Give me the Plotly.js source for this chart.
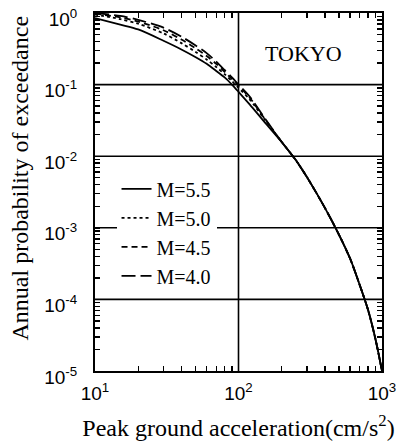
<!DOCTYPE html>
<html>
<head>
<meta charset="utf-8">
<script src="https://cdn.plot.ly/plotly-3.0.1.min.js"></script>
<style>html,body{margin:0;padding:0;background:#fff;}#chart{width:408px;height:444px;}</style>
</head>
<body>
<div id="chart"></div>
<script>
// Peak ground acceleration (cm/s^2)
const pga = [10, 15, 20, 30, 40, 50, 60, 70, 80, 90, 100, 120, 150, 200, 250, 300, 400, 500, 600, 700, 800, 900, 1000];
// Annual probability of exceedance, Tokyo
const m55 = [0.85, 0.69, 0.59, 0.41, 0.31, 0.243, 0.195, 0.155, 0.126, 0.100, 0.0794, 0.0525, 0.0309, 0.0158, 0.0089, 0.0051, 0.0019, 0.00081, 0.00037, 0.000158, 0.000071, 0.000028, 0.00001];
const m50 = [0.95, 0.822, 0.708, 0.519, 0.380, 0.288, 0.224, 0.176, 0.140, 0.112, 0.0902, 0.0617, 0.0339, 0.0158, 0.0089, 0.0051, 0.0019, 0.00081, 0.00037, 0.000158, 0.000071, 0.000028, 0.00001];
const m45 = [0.98, 0.871, 0.759, 0.575, 0.427, 0.324, 0.251, 0.195, 0.151, 0.120, 0.0966, 0.0653, 0.0347, 0.0158, 0.0089, 0.0051, 0.0019, 0.00081, 0.00037, 0.000158, 0.000071, 0.000028, 0.00001];
const m40 = [1.0, 0.912, 0.804, 0.624, 0.468, 0.355, 0.275, 0.209, 0.160, 0.126, 0.100, 0.0676, 0.0355, 0.0158, 0.0089, 0.0051, 0.0019, 0.00081, 0.00037, 0.000158, 0.000071, 0.000028, 0.00001];

const seriesNames = ['M=5.5', 'M=5.0', 'M=4.5', 'M=4.0'];
const seriesData = [m55, m50, m45, m40];
const seriesDash = ['solid', 'dot', '6px,4px', '14px,5px'];

const xTickVals = [10, 100, 1000];
const xTickText = ['10<sup>1</sup>', '10<sup>2</sup>', '10<sup>3</sup>'];
const yTickVals = [1e-5, 1e-4, 1e-3, 1e-2, 1e-1, 1];
const yTickText = ['10<sup>-5</sup>', '10<sup>-4</sup>', '10<sup>-3</sup>', '10<sup>-2</sup>', '10<sup>-1</sup>', '10<sup>0</sup>'];

// major decade ticks + unlabeled minor ticks (2..9 in each decade)
function allTicks(majors, labels) {
  const vals = [], text = [];
  majors.forEach((m, i) => {
    vals.push(m); text.push(labels[i]);
    if (i < majors.length - 1) for (let k = 2; k <= 9; k++) { vals.push(k * m); text.push(''); }
  });
  return {vals, text};
}
const xt = allTicks(xTickVals, xTickText);
const yt = allTicks(yTickVals, yTickText);

// interior decade grid lines
const gridShapes = [];
xTickVals.slice(1, -1).forEach(v => gridShapes.push({type: 'line', layer: 'below', xref: 'x', yref: 'paper', x0: v, x1: v, y0: 0, y1: 1, line: {color: '#000', width: 1.6}}));
yTickVals.slice(1, -1).forEach(v => gridShapes.push({type: 'line', layer: 'below', xref: 'paper', yref: 'y', x0: 0, x1: 1, y0: v, y1: v, line: {color: '#000', width: 1.6}}));

const traces = seriesNames.map((n, i) => ({
  x: pga, y: seriesData[i], name: n, type: 'scatter', mode: 'lines',
  line: {color: '#000', width: 1.8, dash: seriesDash[i], shape: 'spline', smoothing: 0.8}
}));

const tickFont = {family: 'Liberation Sans, Arial, sans-serif', size: 19, color: '#000'};
const serif = 'Liberation Serif, Times New Roman, serif';

const layout = {
  width: 408, height: 444,
  margin: {l: 95, r: 26, t: 13, b: 73},
  paper_bgcolor: '#fff', plot_bgcolor: '#fff',
  showlegend: true,
  legend: {x: 0.075, y: 0.563, xanchor: 'left', yanchor: 'top', bgcolor: '#fff', borderwidth: 0,
           font: {family: serif, size: 20, color: '#000'}},
  shapes: gridShapes,
  xaxis: {
    type: 'log', range: [1, 3], tickmode: 'array', tickvals: xt.vals, ticktext: xt.text,
    tickfont: tickFont, ticks: 'inside', ticklen: 5, tickwidth: 1.4, tickcolor: '#000',
    showgrid: false, zeroline: false, ticklabeloverflow: 'allow',
    showline: true, linecolor: '#000', linewidth: 2, mirror: 'allticks',
    ticklabelstandoff: 4,
    title: {text: 'Peak ground acceleration(cm/s<sup>2</sup>)', font: {family: serif, size: 24, color: '#000'}, standoff: 16}
  },
  yaxis: {
    type: 'log', range: [-5.0003, 0.0003], tickmode: 'array', tickvals: yt.vals, ticktext: yt.text,
    tickfont: tickFont, ticks: 'inside', ticklen: 5, tickwidth: 1.4, tickcolor: '#000',
    showgrid: false, zeroline: false, ticklabeloverflow: 'allow',
    showline: true, linecolor: '#000', linewidth: 2, mirror: 'allticks',
    ticklabelstandoff: 12, ticklabelshift: 6
  },
  annotations: [{
    text: 'TOKYO', xref: 'paper', yref: 'paper', x: 0.725, y: 0.888, xanchor: 'center', yanchor: 'middle',
    showarrow: false, font: {family: serif, size: 22, color: '#000'}
  }, {
    text: 'Annual probability of exceedance', xref: 'paper', yref: 'paper', x: -0.262, y: 0.54,
    xanchor: 'center', yanchor: 'middle', textangle: -90, showarrow: false,
    font: {family: serif, size: 24, color: '#000'}
  }]
};

Plotly.newPlot('chart', traces, layout, {displayModeBar: false, staticPlot: true});
</script>
</body>
</html>
